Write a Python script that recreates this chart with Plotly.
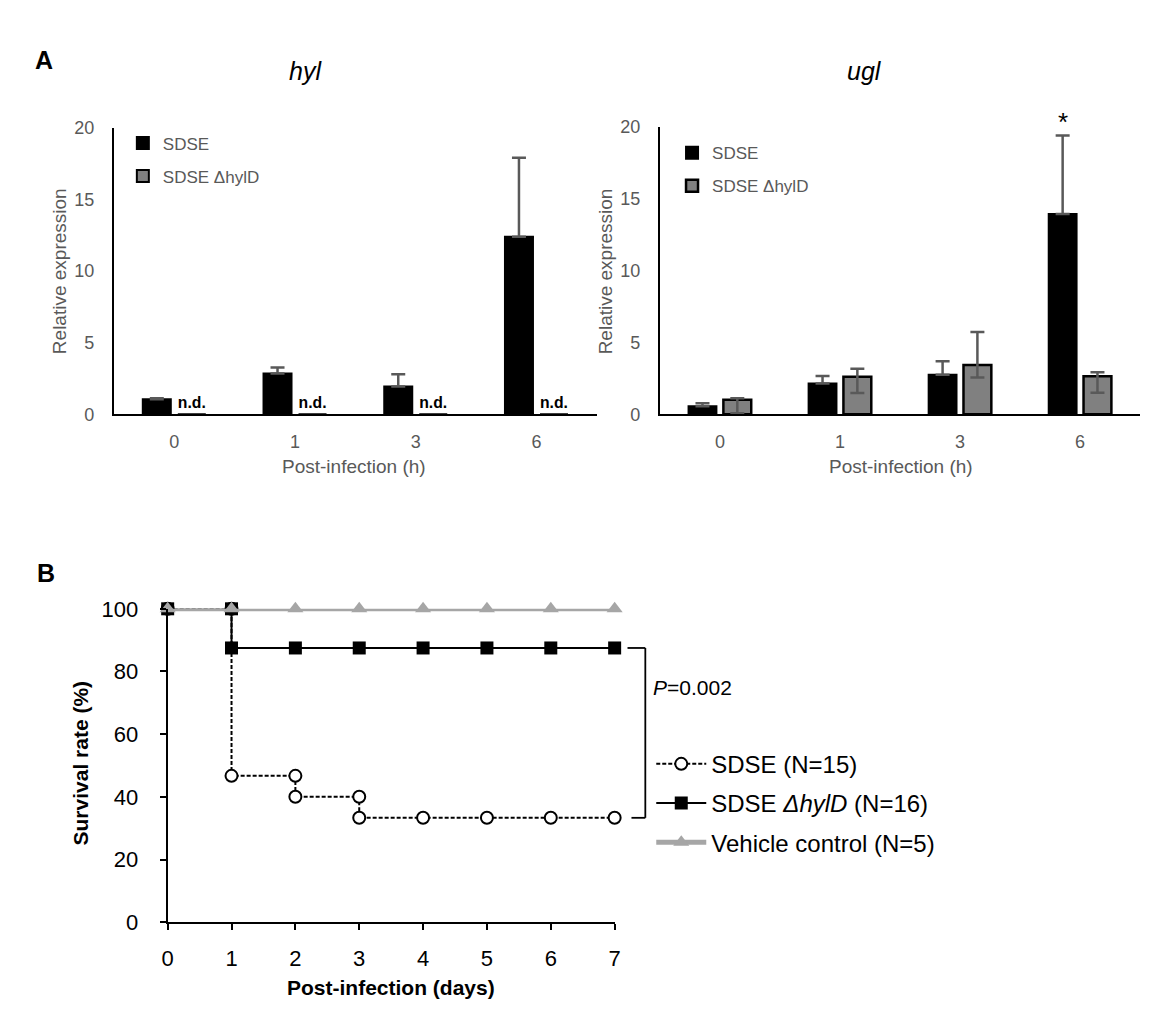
import plotly.graph_objects as go

# the page body adds an 8px margin, so the figure is drawn 16px smaller
PAGE_W, PAGE_H, PAD = 1162, 1029, 8
W, H = PAGE_W - 2 * PAD, PAGE_H - 2 * PAD
FONT = "Arial, Liberation Sans, sans-serif"
GREY_TXT = "#595959"

# ---- panel A data (relative expression) ----
hours = ["0", "1", "3", "6"]

hyl_sdse = [1.05, 2.85, 1.95, 12.4]
hyl_sdse_err = [0.08, 0.42, 0.85, 5.5]
hyl_mut = [0, 0, 0, 0]
hyl_mut_label = ["n.d.", "n.d.", "n.d.", "n.d."]

ugl_sdse = [0.57, 2.15, 2.76, 13.95]
ugl_sdse_err = [0.2, 0.52, 0.93, 5.45]
ugl_mut = [1.02, 2.61, 3.44, 2.65]
ugl_mut_err_plus = [0.09, 0.56, 2.29, 0.27]
ugl_mut_err_minus = [0.95, 1.13, 0.88, 1.14]
ugl_sig = ["", "", "", "*"]

# ---- panel B data (survival) ----
days_sdse = [0, 1, 1, 2, 2, 3, 3, 4, 5, 6, 7]
surv_sdse = [100, 100, 46.7, 46.7, 40, 40, 33.3, 33.3, 33.3, 33.3, 33.3]
days_mut = [0, 1, 1, 2, 3, 4, 5, 6, 7]
surv_mut = [100, 100, 87.5, 87.5, 87.5, 87.5, 87.5, 87.5, 87.5]
days_ctrl = [0, 1, 2, 3, 4, 5, 6, 7]
surv_ctrl = [100, 100, 100, 100, 100, 100, 100, 100]
p_text = "<i>P</i>=0.002"


def px(x):
    # page pixel -> paper fraction
    return (x - PAD) / W


def py(y):
    return 1 - (y - PAD) / H


err_style = dict(color=GREY_TXT, thickness=2.5, width=7)

fig = go.Figure()

# hyl
fig.add_trace(go.Bar(
    x=hours, y=hyl_sdse, name="SDSE",
    marker=dict(color="black", line=dict(color="black", width=2)),
    error_y=dict(type="data", symmetric=False, array=hyl_sdse_err,
                 arrayminus=[0] * len(hours), **err_style),
    xaxis="x", yaxis="y", legend="legend", legendgroup="h1",
))
fig.add_trace(go.Bar(
    x=hours, y=hyl_mut, name="SDSE ΔhylD",
    marker=dict(color="#808080", line=dict(color="black", width=2)),
    text=["<b>%s</b>" % t for t in hyl_mut_label], textposition="outside",
    textfont=dict(size=17, color="black", family=FONT), cliponaxis=False,
    xaxis="x", yaxis="y", legend="legend", legendgroup="h2",
))

# ugl
x2_dom = [px(660.7), px(1146)]
y2_dom = [py(412.3), py(117.7)]
fig.add_trace(go.Bar(
    x=hours, y=ugl_sdse, name="SDSE",
    marker=dict(color="black", line=dict(color="black", width=2)),
    error_y=dict(type="data", symmetric=False, array=ugl_sdse_err,
                 arrayminus=[0] * len(hours), **err_style),
    xaxis="x2", yaxis="y2", legend="legend2", legendgroup="u1",
))
fig.add_trace(go.Bar(
    x=hours, y=ugl_mut, name="SDSE ΔhylD",
    marker=dict(color="#808080", line=dict(color="black", width=2.5)),
    error_y=dict(type="data", symmetric=False, array=ugl_mut_err_plus,
                 arrayminus=ugl_mut_err_minus, **err_style),
    xaxis="x2", yaxis="y2", legend="legend2", legendgroup="u2",
))

# survival
fig.add_trace(go.Scatter(
    x=days_sdse, y=surv_sdse, name="SDSE (N=15)", mode="lines+markers",
    line=dict(color="black", width=2, dash="4px,2px"),
    marker=dict(symbol="circle", size=12, color="white",
                line=dict(color="black", width=2)),
    cliponaxis=False, xaxis="x3", yaxis="y3", legend="legend3", legendgroup="s1",
))
fig.add_trace(go.Scatter(
    x=days_mut, y=surv_mut, name="SDSE <i>ΔhylD</i> (N=16)", mode="lines+markers",
    line=dict(color="black", width=2),
    marker=dict(symbol="square", size=13, color="black"),
    cliponaxis=False, xaxis="x3", yaxis="y3", legend="legend3", legendgroup="s2",
))
fig.add_trace(go.Scatter(
    x=days_ctrl, y=surv_ctrl, name="Vehicle control (N=5)", mode="lines+markers",
    line=dict(color="#a6a6a6", width=5),
    marker=dict(symbol="triangle-up", size=14, color="#a6a6a6"),
    cliponaxis=False, xaxis="x3", yaxis="y3", legend="legend3", legendgroup="s3",
))

bar_x = dict(type="category", range=[-0.5, 3.5], showline=True, linecolor="black",
             linewidth=2, ticks="", showgrid=False, zeroline=False,
             tickfont=dict(size=18, color=GREY_TXT, family=FONT), ticklabelstandoff=10)
bar_y = dict(range=[0, 20], dtick=5, showline=True, linecolor="black", linewidth=2,
             ticks="", showgrid=False, zeroline=False,
             tickfont=dict(size=18, color=GREY_TXT, family=FONT), ticklabelstandoff=14)

legend_common = dict(xanchor="left", yanchor="top", bgcolor="rgba(0,0,0,0)",
                     itemclick=False)

surv_x_dom = [px(163.3), px(615)]
surv_y_dom = [py(933), py(611.7)]

fig.update_layout(
    width=W, height=H,
    margin=dict(l=0, r=0, t=0, b=0),
    paper_bgcolor="white", plot_bgcolor="white",
    font=dict(family=FONT, color="black"),
    barmode="group", bargap=0.42, bargroupgap=0.2,
    xaxis=dict(domain=[px(109), px(597)], anchor="y", **bar_x),
    yaxis=dict(domain=[py(412.3), py(118.5)], anchor="x", **bar_y),
    xaxis2=dict(domain=x2_dom, anchor="y2", **bar_x),
    yaxis2=dict(domain=y2_dom, anchor="x2", **bar_y),
    xaxis3=dict(domain=surv_x_dom, anchor="y3", range=[0, 7], dtick=1,
                showline=True, linecolor="black", linewidth=2, ticks="outside",
                ticklen=6, tickwidth=2, tickcolor="black", showgrid=False,
                zeroline=False, tickfont=dict(size=22, color="black", family=FONT),
                ticklabelstandoff=9),
    yaxis3=dict(domain=surv_y_dom, anchor="x3", range=[0, 100], dtick=20,
                showline=True, linecolor="black", linewidth=2, ticks="outside",
                ticklen=6, tickwidth=2, tickcolor="black", showgrid=False,
                zeroline=False, tickfont=dict(size=22, color="black", family=FONT),
                ticklabelstandoff=17),
    legend=dict(x=px(118), y=py(116), tracegroupgap=8,
                font=dict(size=17, color=GREY_TXT, family=FONT), **legend_common),
    legend2=dict(x=px(673), y=py(126), tracegroupgap=8,
                 font=dict(size=17, color=GREY_TXT, family=FONT), **legend_common),
    legend3=dict(x=px(652), y=py(748), itemwidth=50, tracegroupgap=5,
                 font=dict(size=24, color="black", family=FONT), **legend_common),
)

annotations = [
    dict(text="<b>A</b>", x=px(38), y=py(49), font=dict(size=25)),
    dict(text="<b>B</b>", x=px(40), y=py(575), font=dict(size=25)),
    dict(text="<i>hyl</i>", x=px(303), y=py(60), font=dict(size=25)),
    dict(text="<i>ugl</i>", x=px(867), y=py(60), font=dict(size=25)),
    dict(text="Relative expression", x=px(54), y=py(266), textangle=-90,
         font=dict(size=19, color=GREY_TXT)),
    dict(text="Relative expression", x=px(606), y=py(266), textangle=-90,
         font=dict(size=19, color=GREY_TXT)),
    dict(text="Post-infection (h)", x=px(352), y=py(466),
         font=dict(size=19, color=GREY_TXT)),
    dict(text="Post-infection (h)", x=px(904), y=py(466),
         font=dict(size=19, color=GREY_TXT)),
    dict(text="<b>Survival rate (%)</b>", x=px(75), y=py(770), textangle=-90,
         font=dict(size=21)),
    dict(text="<b>Post-infection (days)</b>", x=px(389), y=py(1000),
         font=dict(size=21)),
    dict(text=p_text, x=px(652), y=py(692), xanchor="left", font=dict(size=21)),
]

# significance mark above the SDSE error bar (ugl), placed through the x2/y2 scales
n_cat = len(hours)
for i, mark in enumerate(ugl_sig):
    if not mark:
        continue
    frac_x = (i + 0.5) / n_cat
    frac_y = (ugl_sdse[i] + ugl_sdse_err[i]) / 20.0
    annotations.append(dict(
        text=mark, x=x2_dom[0] + frac_x * (x2_dom[1] - x2_dom[0]),
        y=y2_dom[0] + frac_y * (y2_dom[1] - y2_dom[0]),
        xshift=-17, yanchor="bottom", yshift=-3, font=dict(size=26)))

for a in annotations:
    a.setdefault("xref", "paper")
    a.setdefault("yref", "paper")
    a.setdefault("showarrow", False)
    a.setdefault("xanchor", "center")
    a.setdefault("yanchor", "middle")
    a["font"].setdefault("family", FONT)
    a["font"].setdefault("color", "black")
    fig.add_annotation(**a)


# log-rank bracket between the two SDSE curves (paper coords from the y3 scale)
def surv_y(v):
    return surv_y_dom[0] + (surv_y_dom[1] - surv_y_dom[0]) * v / 100.0


top, bot = surv_y(surv_mut[-1]), surv_y(surv_sdse[-1])
bx_right, bx_top, bx_bot = px(646), px(628), px(632)
bline = dict(color="black", width=1.8)
fig.add_shape(type="line", xref="paper", yref="paper", x0=bx_top, x1=bx_right,
              y0=top, y1=top, line=bline)
fig.add_shape(type="line", xref="paper", yref="paper", x0=bx_right, x1=bx_right,
              y0=top, y1=bot, line=bline)
fig.add_shape(type="line", xref="paper", yref="paper", x0=bx_bot, x1=bx_right,
              y0=bot, y1=bot, line=bline)

fig.write_html("out.html")
